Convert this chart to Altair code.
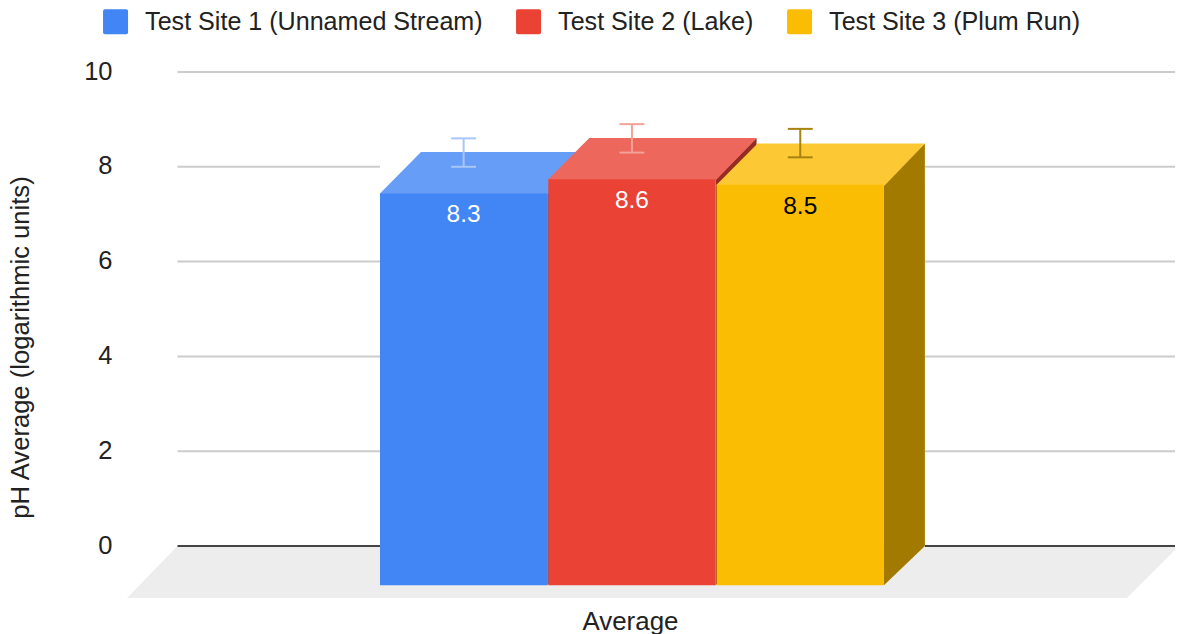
import altair as alt
import pandas as pd

sites = ["Test Site 1 (Unnamed Stream)", "Test Site 2 (Lake)", "Test Site 3 (Plum Run)"]
values = [8.31, 8.61, 8.49]
label_text = ["8.3", "8.6", "8.5"]
err_low = [8.0, 8.3, 8.2]
err_high = [8.6, 8.9, 8.8]
centers = [-1.0, 0.0, 1.0]
front_colors = ["#4285F4", "#EA4335", "#FBBC04"]
top_colors = ["#669DF6", "#EE675C", "#FCC934"]
side_colors = ["#2F5FAE", "#962B22", "#A37A00"]
err_colors = ["#A9C6F8", "#F3A199", "#A8820F"]
label_colors = ["#FFFFFF", "#FFFFFF", "#000000"]
y_ticks = [0, 2, 4, 6, 8, 10]
category = "Average"
y_title = "pH Average (logarithmic units)"

half = 0.497
dx = 0.2435
dy = 0.871
base_dy = 0.83
cap = 0.074
overlap = 0.03
x_dom = [-3.0, 3.2264]
y_dom = [-1.097, 10]

xs = alt.Scale(domain=x_dom, nice=False, zero=False)
ys = alt.Scale(domain=y_dom, nice=False, zero=False)
x_axis = alt.Axis(
    values=[0], labelExpr=f"'{category}'", title=None, domain=False, ticks=False, grid=False,
    labelFontSize=25.9, labelColor="#222222", labelFont="Liberation Sans",
    labelPadding=11, labelOffset=-2)
y_axis = alt.Axis(
    values=y_ticks, format="d", domain=False, ticks=False, grid=False,
    labelFontSize=25.5, labelColor="#222222", labelFont="Liberation Sans",
    labelPadding=15, labelOffset=-1,
    title=y_title, titleFontSize=25.6, titleFontWeight="normal",
    titleFont="Liberation Sans", titleColor="#222222", titleX=-107, titleY=275,
    titleAlign="center", titleBaseline="middle")
X = lambda f="x": alt.X(f"{f}:Q", scale=xs, axis=x_axis)
Y = lambda f="y": alt.Y(f"{f}:Q", scale=ys, axis=y_axis, stack=None)


def area(rows, color):
    df = pd.DataFrame(rows, columns=["x", "y", "y2"])
    return alt.Chart(df).mark_area(color=color, opacity=1, line=False).encode(
        x=X(), y=Y(), y2=alt.Y2("y2:Q"))


def rule(df, color, width):
    return alt.Chart(df).mark_rule(color=color, strokeWidth=width).encode(
        x=X(), x2=alt.X2("x2:Q"), y=Y(), y2=alt.Y2("y2:Q"))


layers = []

# floor
fl, fr, bl, br = -3.0, 2.94, -2.7, x_dom[1]
layers.append(area([[fl, y_dom[0], y_dom[0]], [bl, y_dom[0], 0], [fr, y_dom[0], 0], [br, -0.084, 0]], "#EDEDED"))

# grid and zero line, broken where the bars stand in front of them
bars_left = centers[0] - half
bars_right = centers[-1] + half + dx
grid_rows = [[bl, br, y_ticks[-1]]]
for t in y_ticks[1:-1]:
    grid_rows += [[bl, bars_left, t], [bars_right, br, t]]
grid_df = pd.DataFrame(grid_rows, columns=["x", "x2", "y"])
grid_df["y2"] = grid_df["y"]
layers.append(rule(grid_df, "#CCCCCC", 2))
zero_df = pd.DataFrame({"x": [bl, bars_right], "x2": [bars_left, br], "y": [0, 0], "y2": [0, 0]})
layers.append(rule(zero_df, "#444444", 2))

# depth faces
for c, v, top, side in zip(centers, values, top_colors, side_colors):
    x0, x1 = c - half, c + half
    vf = v - dy
    low = vf - overlap
    layers.append(area([[x1, -base_dy, vf], [x1 + dx, 0, v]], side))
    layers.append(area([[x0, low, vf], [x0 + dx, low, v], [x1, low, v], [x1 + dx, v, v]], top))

# front faces with legend
front_df = pd.DataFrame({
    "site": sites,
    "x": [c - half for c in centers],
    "x2": [c + half for c in centers],
    "y": [-base_dy] * 3,
    "y2": [v - dy for v in values],
})
rounded = "M-0.85,-1H0.85Q1,-1 1,-0.85V0.85Q1,1 0.85,1H-0.85Q-1,1 -1,0.85V-0.85Q-1,-1 -0.85,-1Z"
layers.append(
    alt.Chart(front_df).mark_rect().encode(
        x=X(), x2=alt.X2("x2:Q"), y=Y(), y2=alt.Y2("y2:Q"),
        color=alt.Color("site:N", scale=alt.Scale(domain=sites, range=front_colors), legend=alt.Legend(
            orient="none", direction="horizontal", columns=3, title=None,
            legendX=-24, legendY=-63,
            symbolType=rounded, symbolSize=625, symbolStrokeWidth=0,
            labelFontSize=25.1, labelFont="Liberation Sans", labelColor="#222222",
            labelOffset=17, columnPadding=33, labelLimit=500)),
    )
)

# error bars
for c, lo, hi, col in zip(centers, err_low, err_high, err_colors):
    rows = pd.DataFrame({
        "x": [c, c - cap, c - cap],
        "x2": [c, c + cap, c + cap],
        "y": [lo, lo, hi],
        "y2": [hi, lo, hi],
    })
    layers.append(rule(rows, col, 2))

# value labels
label_df = pd.DataFrame({"x": centers, "y": [v - dy for v in values], "t": label_text, "c": label_colors})
layers.append(
    alt.Chart(label_df).mark_text(fontSize=24.5, font="Liberation Sans", baseline="middle", dy=22).encode(
        x=X(), y=Y(), text="t:N", color=alt.Color("c:N", scale=None, legend=None))
)

chart = alt.layer(*layers).properties(
    width=1048, height=526,
    padding={"left": 119, "top": 64, "right": 0, "bottom": 36},
    autosize=alt.AutoSizeParams(type="none"),
).configure_view(stroke=None)

chart.save("out.html", embed_options={"renderer": "svg", "actions": False})
